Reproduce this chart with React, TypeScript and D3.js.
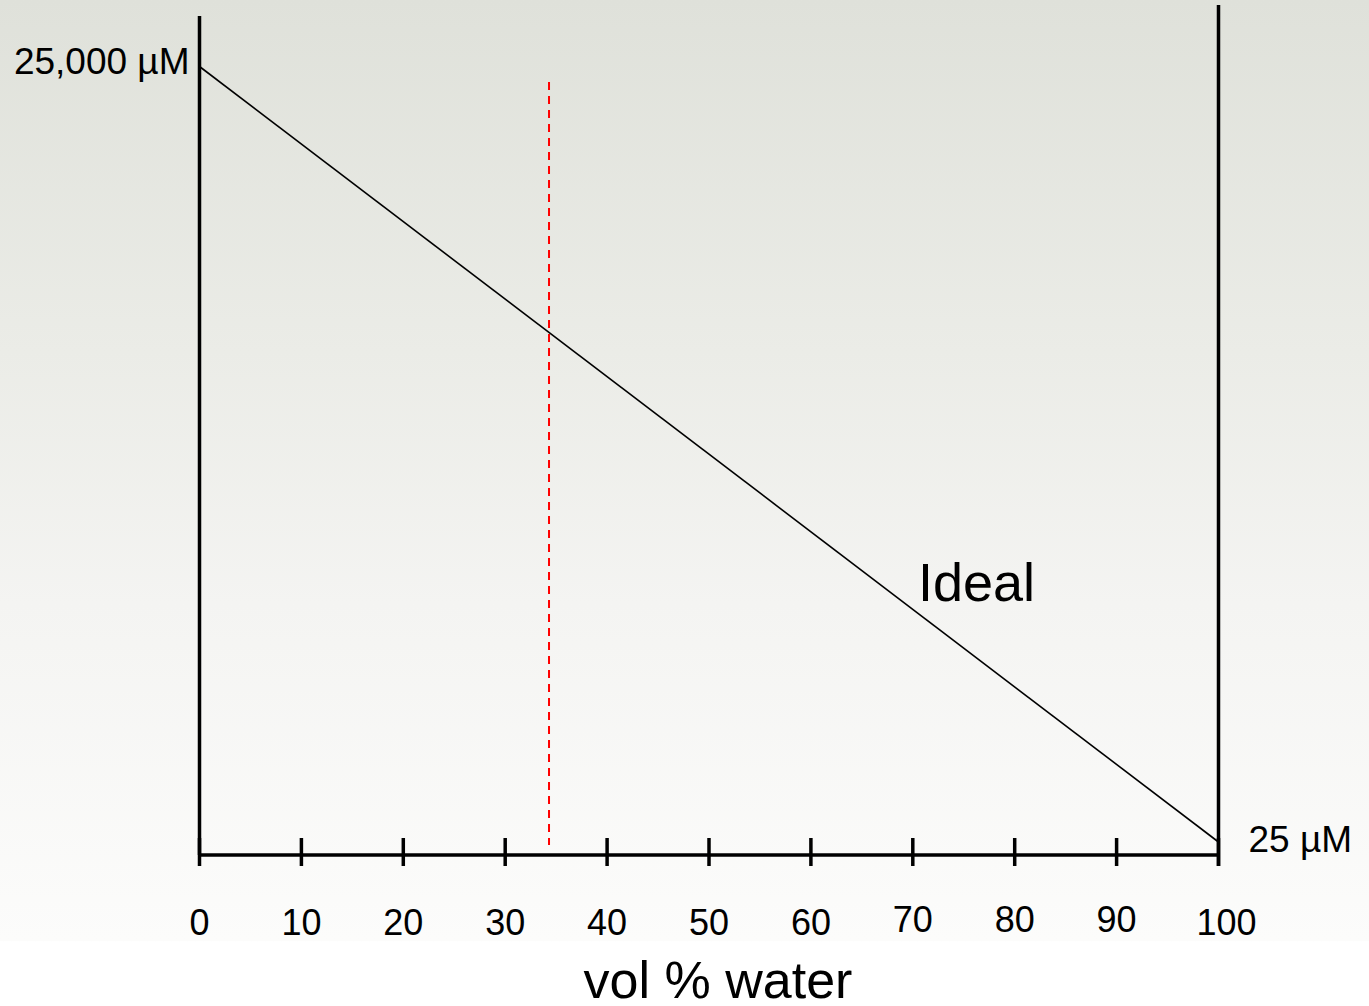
import React, { useEffect } from "react";
import * as d3 from "d3";

// ---- data ----
const xTicks = [0, 10, 20, 30, 40, 50, 60, 70, 80, 90, 100];
const xTickLabels = ["0", "10", "20", "30", "40", "50", "60", "70", "80", "90", "100"];
const idealX = [0, 100];
const idealConc = [25000, 25];
const concLabels = ["25,000 µM", "25 µM"];
const referenceX = 34.3;
const xTitle = "vol % water";
const seriesLabel = "Ideal";

const W = 1369;
const H = 1006;
const FONT = "'Liberation Sans', Arial, Helvetica, sans-serif";

export default function App() {
  useEffect(() => {
    document.body.style.margin = "0";
  }, []);

  const x = d3.scaleLinear().domain([0, 100]).range([199.5, 1218.5]);
  const y = d3.scaleLinear().domain([25, 25000]).range([842, 66.5]);
  const axisY = 855;

  const pts = idealX.map((v, i) => [x(v), y(idealConc[i])] as [number, number]);
  const line = d3.line()(pts) || "";

  // small typographic nudges seen in the original slide
  const labelDx = (t: number) => (t === 100 ? 8 : 0);
  const labelDy = (t: number) => (t >= 70 && t <= 90 ? -3 : 0);

  return (
    <svg width={W} height={H} style={{ display: "block" }} fontFamily={FONT}>
      <defs>
        <linearGradient id="bg" x1="0" y1="0" x2="0" y2="1">
          <stop offset="0" stopColor="#dfe1da" />
          <stop offset="0.35" stopColor="#ebece7" />
          <stop offset="0.6" stopColor="#f4f4f2" />
          <stop offset="0.935" stopColor="#fcfcfb" />
          <stop offset="0.936" stopColor="#ffffff" />
          <stop offset="1" stopColor="#ffffff" />
        </linearGradient>
      </defs>
      <rect x={0} y={0} width={W} height={H} fill="url(#bg)" />

      {/* left axis */}
      <line x1={x(0)} x2={x(0)} y1={16} y2={axisY} stroke="#000" strokeWidth={3.5} />
      {/* right axis */}
      <line x1={x(100)} x2={x(100)} y1={5} y2={866} stroke="#000" strokeWidth={3.5} />
      {/* x axis */}
      <line x1={x(0) - 1.5} x2={x(100) + 1.5} y1={axisY} y2={axisY} stroke="#000" strokeWidth={3.5} />
      {xTicks.map((t, i) => (
        <g key={t}>
          <line x1={x(t)} x2={x(t)} y1={838} y2={866} stroke="#000" strokeWidth={3.5} />
          <text
            x={x(t) + labelDx(t)}
            y={935 + labelDy(t)}
            textAnchor="middle"
            fontSize={36}
            fill="#000"
          >
            {xTickLabels[i]}
          </text>
        </g>
      ))}

      {/* reference dashed line */}
      <line
        x1={x(referenceX)}
        x2={x(referenceX)}
        y1={82}
        y2={845}
        stroke="#ff0000"
        strokeWidth={2}
        strokeDasharray="8,6"
      />

      {/* ideal line */}
      <path d={line} fill="none" stroke="#000" strokeWidth={1.6} />

      {/* concentration labels */}
      <text x={x(0) - 10} y={y(idealConc[0]) + 7} textAnchor="end" fontSize={37} fill="#000">
        {concLabels[0]}
      </text>
      <text x={x(100) + 30} y={y(idealConc[1]) + 10} textAnchor="start" fontSize={37} fill="#000">
        {concLabels[1]}
      </text>

      {/* series label */}
      <text x={918} y={601} fontSize={54} fill="#000">
        {seriesLabel}
      </text>

      {/* x title */}
      <text x={718} y={998} textAnchor="middle" fontSize={52} fill="#000">
        {xTitle}
      </text>
    </svg>
  );
}
